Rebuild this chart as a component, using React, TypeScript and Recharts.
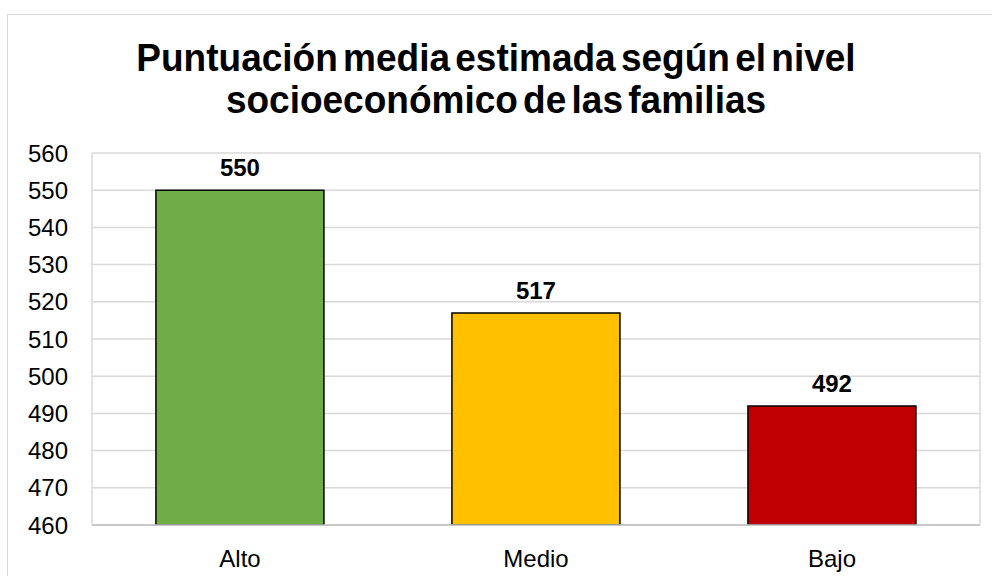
import React from "react";
import {
  BarChart,
  Bar,
  XAxis,
  YAxis,
  CartesianGrid,
  Cell,
  LabelList,
} from "recharts";

const niveles = ["Alto", "Medio", "Bajo"];
const puntuaciones = [550, 517, 492];
const colores = ["#70AD47", "#FFC000", "#C00000"];
const yTicks = [460, 470, 480, 490, 500, 510, 520, 530, 540, 550, 560];

const data = niveles.map((nivel, i) => ({
  nivel,
  puntuacion: puntuaciones[i],
}));

const font = "'Liberation Sans', Arial, sans-serif";

export default function App() {
  return (
    <div
      style={{
        position: "absolute",
        left: 0,
        top: 0,
        width: 992,
        height: 576,
        overflow: "hidden",
        background: "#fff",
        fontFamily: font,
      }}
    >
      {/* marco del gráfico */}
      <div
        style={{
          position: "absolute",
          left: 7,
          top: 14,
          width: 1100,
          height: 700,
          border: "1.5px solid #d9d9d9",
        }}
      />

      <div
        style={{
          position: "absolute",
          left: 0,
          top: 39,
          width: 992,
          textAlign: "center",
          fontWeight: "bold",
          fontSize: 37,
          lineHeight: "40px",
          wordSpacing: -5,
          color: "#000",
          transform: "scaleY(1.06)",
        }}
      >
        Puntuación media estimada según el nivel
        <br />
        socioeconómico de las familias
      </div>

      <BarChart
        width={992}
        height={576}
        data={data}
        margin={{ top: 153, right: 12, bottom: 21, left: 22 }}
        barCategoryGap="21.6%"
        style={{ position: "absolute", left: 0, top: 0 }}
      >
        <CartesianGrid
          stroke="#d9d9d9"
          strokeWidth={1.5}
          verticalCoordinatesGenerator={({ offset }: any) => [
            offset.left,
            offset.left + offset.width,
          ]}
        />
        <XAxis
          dataKey="nivel"
          height={30}
          axisLine={{ stroke: "#bfbfbf", strokeWidth: 1.5 }}
          tickLine={false}
          tickSize={0}
          tickMargin={25}
          tick={{ fill: "#000", fontSize: 24, fontFamily: font }}
        />
        <YAxis
          width={70}
          domain={[460, 560]}
          ticks={yTicks}
          allowDataOverflow
          axisLine={false}
          tickLine={false}
          tickSize={0}
          tickMargin={24}
          tick={{ fill: "#000", fontSize: 24, fontFamily: font }}
        />
        <Bar
          dataKey="puntuacion"
          stroke="#000"
          strokeWidth={1.5}
          isAnimationActive={false}
        >
          {data.map((d, i) => (
            <Cell key={d.nivel} fill={colores[i]} />
          ))}
          <LabelList
            dataKey="puntuacion"
            position="top"
            offset={14}
            fill="#000"
            fontSize={24}
            fontWeight="bold"
            fontFamily={font}
          />
        </Bar>
      </BarChart>
    </div>
  );
}
